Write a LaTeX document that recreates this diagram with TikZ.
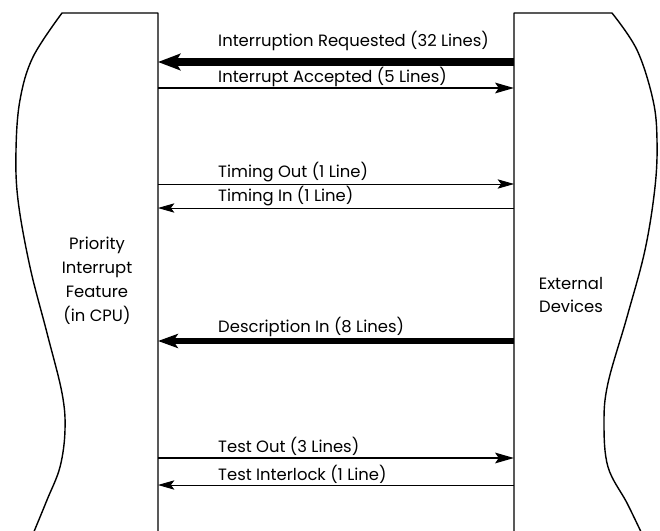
\documentclass[tikz,border=0pt]{standalone}
\usepackage{fontspec}
\setmainfont{Poppins}
\usetikzlibrary{arrows.meta}

\tikzset{
  outline/.style={line width=1.2pt},
  busA/.style={line width=6.5pt,-{Stealth[length=19pt,width=14pt,inset=4pt]}},
  busB/.style={line width=4.5pt,-{Stealth[length=17pt,width=12pt,inset=4pt]}},
  busC/.style={line width=2.2pt,-{Stealth[length=16pt,width=9pt,inset=3pt]}},
  wire/.style={line width=0.7pt,-{Stealth[length=14pt,width=8pt,inset=3pt]}},
  sig/.style={anchor=base west,inner sep=0pt,font=\fontsize{14}{16}\selectfont},
  unit/.style={align=center,inner sep=0pt,font=\fontsize{14}{20.4}\selectfont}
}

\begin{document}
\begin{tikzpicture}[x=0.03cm,y=-0.03cm]
\useasboundingbox (0,0) rectangle (660,531);
\begin{scope}
\clip (0,0) rectangle (660,531);
% left block
\draw[outline,line join=round] plot[smooth,tension=0.6] coordinates {(33,534) (47,500) (60,467) (65,430) (62,393) (47,333) (30,267) (18,200) (16,150) (20,100) (33,57) (62,13)} -- (158,13) -- (158,534);
% right block
\draw[outline,line join=round] (514,534) -- (514,13) -- (612,13) -- plot[smooth,tension=0.6] coordinates {(612,13) (637,50) (653,100) (657,140) (655,187) (645,250) (627,317) (608,383) (604,423) (608,467) (627,503) (642,534)};
\end{scope}

\node[unit] (cpu) at (97,281) {Priority\\Interrupt\\Feature\\(in CPU)};
\node[unit] (dev) at (571,295) {External\\Devices};

\coordinate (c1) at (158,62);  \coordinate (d1) at (514,62);
\coordinate (c2) at (158,88);  \coordinate (d2) at (514,88);
\coordinate (c3) at (158,184); \coordinate (d3) at (514,184);
\coordinate (c4) at (158,208); \coordinate (d4) at (514,208);
\coordinate (c5) at (158,341); \coordinate (d5) at (514,341);
\coordinate (c6) at (158,458); \coordinate (d6) at (514,458);
\coordinate (c7) at (158,485); \coordinate (d7) at (514,485);

\draw[busA] (d1) -- (c1);
\draw[busC] (c2) -- (d2);
\draw[wire] (c3) -- (d3);
\draw[wire] (d4) -- (c4);
\draw[busB] (d5) -- (c5);
\draw[busC] (c6) -- (d6);
\draw[wire] (d7) -- (c7);

\node[sig] (l1) at (218,47)  {Interruption Requested (32 Lines)};
\node[sig] (l2) at (218,82)  {Interrupt Accepted (5 Lines)};
\node[sig] (l3) at (218,177) {Timing Out (1 Line)};
\node[sig] (l4) at (218,201) {Timing In (1 Line)};
\node[sig] (l5) at (218,332) {Description In (8 Lines)};
\node[sig] (l6) at (218,452) {Test Out (3 Lines)};
\node[sig] (l7) at (218,480) {Test Interlock (1 Line)};
\end{tikzpicture}
\end{document}
